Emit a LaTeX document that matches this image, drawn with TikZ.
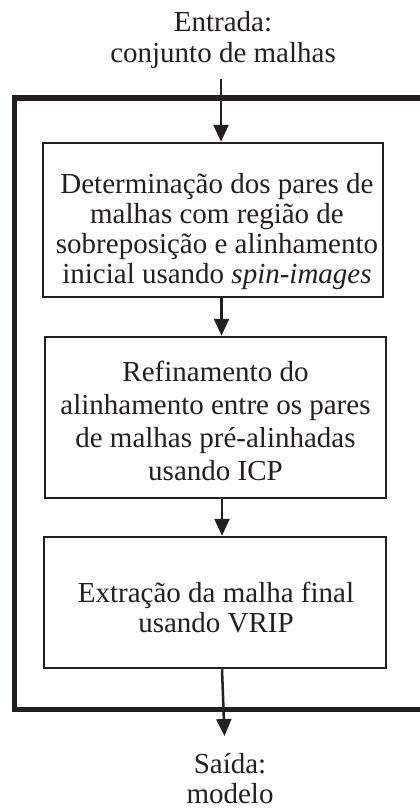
\documentclass[tikz,border=0pt]{standalone}
\usepackage{fontspec}
\setmainfont{Liberation Serif}
\usetikzlibrary{arrows.meta}
\definecolor{ink}{RGB}{35,31,32}
\tikzset{
  lbl/.style={align=center, inner sep=0pt, text=ink, anchor=base},
  frame/.style={draw=ink, line width=2.5pt, inner sep=0pt},
  arr/.style={draw=ink, line width=2.5pt, -{Triangle[length=17pt,width=15pt]}}
}
\begin{document}
\begin{tikzpicture}[x=1pt,y=1pt]
\clip (0,0) rectangle (420,-808);
\fill[white] (0,0) rectangle (420,-808);
% outer frame
\draw[ink, line width=5.5pt] (14.5,-98) rectangle (450,-709.5);
% boxes
\node[frame, minimum width=340pt, minimum height=154pt] (b1) at (213,-220) {};
\node[frame, minimum width=341pt, minimum height=161pt] (b2) at (215.5,-417.5) {};
\node[frame, minimum width=342pt, minimum height=131pt] (b3) at (215,-602.5) {};
% texts (anchor base = baseline of last line)
\node[lbl, font=\fontsize{29}{31}\selectfont] (tin) at (223,-63) {Entrada:\\conjunto de malhas};
\node[lbl, font=\fontsize{29}{30}\selectfont] (t1) at (217,-283) {Determinação dos pares de\\malhas com região de\\sobreposição e alinhamento\\inicial usando \textit{spin-images}};
\node[lbl, font=\fontsize{29}{32.7}\selectfont] (t2) at (215.5,-480) {Refinamento do\\alinhamento entre os pares\\de malhas pré-alinhadas\\usando ICP};
\node[lbl, font=\fontsize{29}{30}\selectfont] (t3) at (216,-632) {Extração da malha final\\usando VRIP};
\node[lbl, font=\fontsize{29}{30}\selectfont] (tout) at (230,-803) {Saída:\\modelo};
% connectors
\coordinate (inS) at (221,-79);
\coordinate (xa) at (221.5,0);
\coordinate (xb) at (222,0);
\coordinate (outE) at (224.5,-736);
\draw[arr] (inS) -- (inS |- b1.north);
\draw[arr] (b1.south -| xa) -- (b2.north -| xa);
\draw[arr] (b2.south -| xb) -- (b3.north -| xb);
\draw[arr] (b3.south -| xb) -- (outE);
\end{tikzpicture}
\end{document}
